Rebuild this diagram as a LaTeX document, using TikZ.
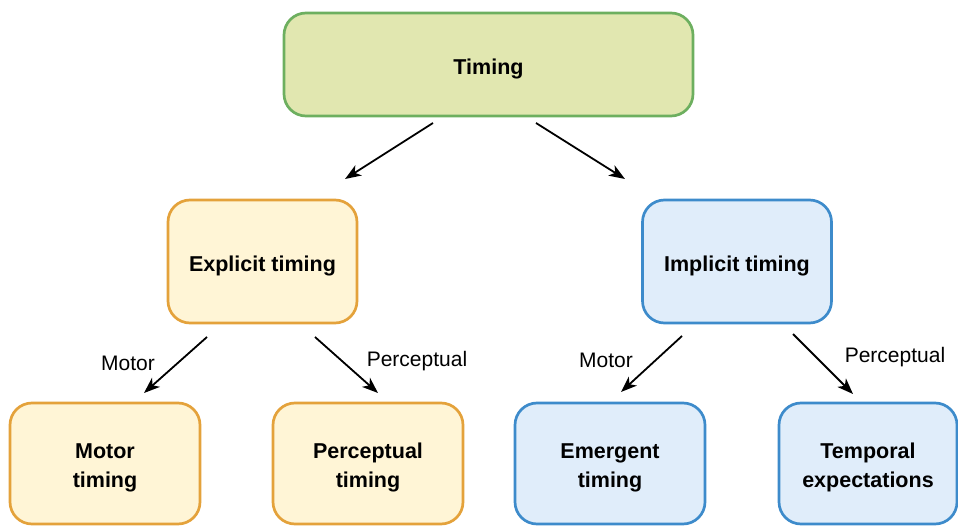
\documentclass[tikz,border=0pt]{standalone}
\usepackage{fontspec}
\setmainfont{Liberation Sans}
\usetikzlibrary{arrows.meta}

\definecolor{greenfill}{HTML}{E1E7B0}
\definecolor{greenline}{HTML}{6DAF5F}
\definecolor{orangefill}{HTML}{FFF5D6}
\definecolor{orangeline}{HTML}{E4A23B}
\definecolor{bluefill}{HTML}{E0EDFA}
\definecolor{blueline}{HTML}{3D8BCB}

\tikzset{
  box/.style={rectangle, rounded corners=22pt, line width=2.7pt, inner sep=0pt},
  boxtext/.style={align=center, inner sep=0pt, yshift=-4pt,
    font=\fontsize{21.5}{29}\selectfont\bfseries},
  greenbox/.style={box, draw=greenline, fill=greenfill},
  orangebox/.style={box, draw=orangeline, fill=orangefill},
  bluebox/.style={box, draw=blueline, fill=bluefill},
  link/.style={line width=1.8pt, -{Stealth[length=16pt,width=12pt,inset=4.5pt]}},
  lbl/.style={font=\fontsize{21}{25}\selectfont, inner sep=0pt}
}

\begin{document}
\begin{tikzpicture}[x=1pt, y=-1pt]
  \useasboundingbox (0,0) rectangle (958,526);

  % boxes, with their texts set at the centre
  \node[greenbox, minimum width=409pt, minimum height=103pt,
        label={[boxtext]center:Timing}] (timing) at (488.5,64.5) {};
  \node[orangebox, minimum width=189pt, minimum height=123pt,
        label={[boxtext]center:Explicit timing}] (explicit) at (262.5,261.5) {};
  \node[bluebox, minimum width=189pt, minimum height=123pt,
        label={[boxtext]center:Implicit timing}] (implicit) at (737,261.5) {};
  \node[orangebox, minimum width=190pt, minimum height=121pt,
        label={[boxtext]center:Motor\\timing}] (motor) at (105,463.5) {};
  \node[orangebox, minimum width=190pt, minimum height=121pt,
        label={[boxtext]center:Perceptual\\timing}] (percept) at (368,463.5) {};
  \node[bluebox, minimum width=190pt, minimum height=121pt,
        label={[boxtext]center:Emergent\\timing}] (emergent) at (610,463.5) {};
  \node[bluebox, minimum width=178pt, minimum height=121pt,
        label={[boxtext]center:Temporal\\expectations}] (temporal) at (868,463.5) {};

  % arrow end points
  \coordinate (t1) at (433,123);  \coordinate (t1e) at (345,179);
  \coordinate (t2) at (536,123);  \coordinate (t2e) at (625,179);
  \coordinate (e1) at (207,337);  \coordinate (e1e) at (144,393);
  \coordinate (e2) at (315,337);  \coordinate (e2e) at (378,393);
  \coordinate (i1) at (682,336);  \coordinate (i1e) at (621,392);
  \coordinate (i2) at (793,334);  \coordinate (i2e) at (853,394);

  \draw[link] (t1) -- (t1e);
  \draw[link] (t2) -- (t2e);
  \draw[link] (e1) -- (e1e);
  \draw[link] (e2) -- (e2e);
  \draw[link] (i1) -- (i1e);
  \draw[link] (i2) -- (i2e);

  % arrow labels
  \node[lbl] (lm1) at (128,363) {Motor};
  \node[lbl] (lp1) at (417,361) {Perceptual};
  \node[lbl] (lm2) at (606,360) {Motor};
  \node[lbl] (lp2) at (895,357) {Perceptual};
\end{tikzpicture}
\end{document}
